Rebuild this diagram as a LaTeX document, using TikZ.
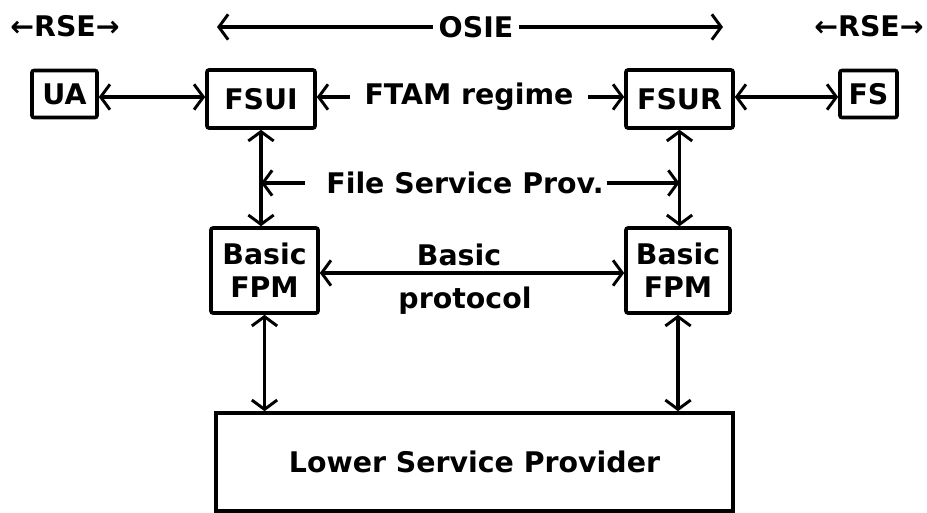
\documentclass[tikz,border=0pt]{standalone}
\usepackage{fontspec}
\setmainfont{DejaVu Sans}
\usetikzlibrary{arrows.meta}
\begin{document}
\begin{tikzpicture}[x=0.75pt,y=-0.75pt,
    every node/.style={font=\fontsize{21.3pt}{25pt}\selectfont\bfseries},
    box/.style={draw,line width=2.7pt,rounded corners=1.5pt,inner sep=0pt},
    lbl/.style={inner sep=0pt},
    link/.style={line width=2.3pt,
      arrows={-Straight Barb[length=7pt,width=19pt,line width=2.2pt]}},
    dlink/.style={line width=2.3pt,
      arrows={Straight Barb[length=7pt,width=19pt,line width=2.2pt]-Straight Barb[length=7pt,width=19pt,line width=2.2pt]}}]
  \useasboundingbox (0,0) rectangle (927,513);

  % headings of the top row
  \node[lbl] (rsel) at (65,26) {←RSE→};
  \node[lbl] (rser) at (869,26) {←RSE→};
  \node[lbl,inner xsep=4pt] (osie) at (476,27) {OSIE};
  \coordinate (osiel) at (217,27);
  \coordinate (osier) at (723,27);
  \draw[link] (osie.west) -- (osiel);
  \draw[link] (osie.east) -- (osier);

  % service users
  \node[box,minimum width=65*0.75pt,minimum height=47*0.75pt] (ua) at (64.5,94) {UA};
  \node[box,minimum width=108*0.75pt,minimum height=58*0.75pt] (fsui) at (261,99) {FSUI};
  \node[box,minimum width=107*0.75pt,minimum height=58*0.75pt] (fsur) at (679.5,99) {FSUR};
  \node[box,minimum width=57*0.75pt,minimum height=47*0.75pt] (fs) at (868.5,94) {FS};

  \coordinate (row) at (0,97);
  \draw[dlink] (ua.east |- row) -- (fsui.west |- row);
  \draw[dlink] (fsur.east |- row) -- (fs.west |- row);

  \node[lbl,inner xsep=11pt] (ftam) at (469,97) {FTAM regime};
  \draw[link] (ftam.west) -- (fsui.east |- ftam.west);
  \draw[link] (ftam.east) -- (fsur.west |- ftam.east);

  % protocol machines
  \node[box,align=center,minimum width=107*0.75pt,minimum height=85*0.75pt,
        font=\fontsize{21.3pt}{25pt}\selectfont\bfseries] (bl) at (264.5,270.5) {Basic\\FPM};
  \node[box,align=center,minimum width=104*0.75pt,minimum height=85*0.75pt,
        font=\fontsize{21.3pt}{25pt}\selectfont\bfseries] (br) at (678,270.5) {Basic\\FPM};

  \draw[dlink] (fsui.south) -- (fsui.south |- bl.north);
  \draw[dlink] (fsur.south) -- (fsur.south |- br.north);

  \node[lbl,inner xsep=2pt] (fsp) at (465,183) {File Service Prov.};
  \coordinate (fspl) at ([xshift=-14pt]fsp.west);
  \draw[link] (fspl) -- (fspl -| fsui.south);
  \draw[link] (fsp.east) -- (fsp.east -| fsur.south);

  \draw[dlink] (bl.east |- 0,273) -- (br.west |- 0,273);
  \node[lbl] (basic) at (459,255) {Basic};
  \node[lbl] (proto) at (465,301) {protocol};

  % lower layer
  \node[box,rounded corners=0pt,minimum width=517*0.75pt,minimum height=98*0.75pt] (lsp) at (474.5,462) {Lower Service Provider};
  \draw[dlink] (bl.south) -- (bl.south |- lsp.north);
  \draw[dlink] (br.south) -- (br.south |- lsp.north);
\end{tikzpicture}
\end{document}
